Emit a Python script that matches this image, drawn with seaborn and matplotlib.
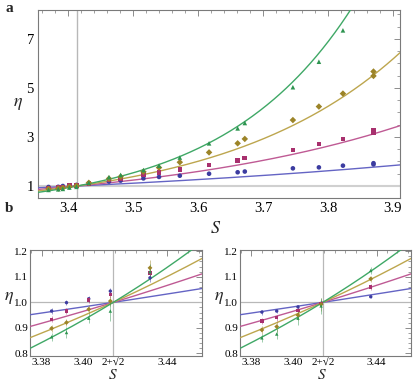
import numpy as np
import pandas as pd
import matplotlib
matplotlib.use("Agg")
import matplotlib.pyplot as plt
import seaborn as sns
from matplotlib.ticker import MultipleLocator, FixedLocator

sns.set_theme(style="white")
plt.rcParams['font.family'] = ['Liberation Serif', 'DejaVu Serif']
plt.rcParams['mathtext.fontset'] = 'stix'

# ---------------- data ----------------
S0 = 2 + np.sqrt(2)
series = ["blue", "magenta", "gold", "green"]
colors_line = ["#6464c4", "#bf5a94", "#bda64e", "#3fa866"]
colors_pt = ["#3c3ca0", "#a8306e", "#9c8428", "#2e9450"]
markers = ["o", "s", "D", "^"]
growth_rates = [1.25, 2.5, 3.75, 5.0]   # fitted exponents

# panel a: S values and eta values for each series
S_top = [3.370, 3.385, 3.392, 3.402, 3.413, 3.432, 3.463, 3.481, 3.516, 3.540,
         3.572, 3.617, 3.661, 3.672, 3.746, 3.786, 3.823, 3.870, 3.870]
eta_blue = [0.960, 0.966, 0.999, 1.014, 1.044, 1.09, 1.18, 1.22, 1.31, 1.37,
            1.42, 1.50, 1.56, 1.59, 1.72, 1.76, 1.83, 1.93, 1.88]
eta_magenta = [0.920, 0.934, 0.966, 1.009, 1.031, 1.11, 1.24, 1.30, 1.48, 1.56,
               1.68, 1.86, 2.05, 2.14, 2.47, 2.71, 2.91, 3.29, 3.19]
eta_gold = [0.880, 0.898, 0.921, 0.973, 1.005, 1.13, 1.30, 1.38, 1.58, 1.75,
            1.97, 2.37, 2.74, 2.92, 3.69, 4.24, 4.77, 5.67, 5.49]
eta_green = [0.840, 0.865, 0.882, 0.938, 0.966, 1.13, 1.36, 1.45, 1.65, 1.83,
             2.16, 2.74, 3.35, 3.57, 5.03, 6.07, 7.35, np.nan, np.nan]

# panel b (left)
S_bl = [3.3848, 3.3919, 3.4025, 3.4128, 3.4317]
bl_blue = [0.966, 0.999, 1.014, 1.044, 1.096]
bl_magenta = [0.934, 0.966, 1.009, 1.031, 1.115]
bl_gold = [0.898, 0.921, 0.973, 1.005, 1.135]
bl_green = [0.865, 0.882, 0.938, 0.966, 1.120]
bl_err_blue = [0.012, 0.010, 0.012, 0.012, 0.015]
bl_err_magenta = [0.012, 0.010, 0.012, 0.012, 0.020]
bl_err_gold = [0.015, 0.012, 0.015, 0.020, 0.030]
bl_err_green = [0.015, 0.020, 0.020, 0.040, 0.030]

# panel b (right)
S_br = [3.3850, 3.3921, 3.4023, 3.4134, 3.4372]
br_blue = [0.962, 0.966, 0.982, 0.996, 1.022]
br_magenta = [0.927, 0.940, 0.969, 0.995, 1.060]
br_gold = [0.892, 0.905, 0.950, 0.992, 1.092]
br_green = [0.861, 0.876, 0.938, 0.986, 1.125]
br_err_blue = [0.010, 0.008, 0.008, 0.008, 0.005]
br_err_magenta = [0.012, 0.012, 0.012, 0.015, 0.012]
br_err_gold = [0.015, 0.020, 0.020, 0.025, 0.012]
br_err_green = [0.015, 0.020, 0.025, 0.030, 0.015]

top_vals = [eta_blue, eta_magenta, eta_gold, eta_green]
bl_vals = [bl_blue, bl_magenta, bl_gold, bl_green]
bl_errs = [bl_err_blue, bl_err_magenta, bl_err_gold, bl_err_green]
br_vals = [br_blue, br_magenta, br_gold, br_green]
br_errs = [br_err_blue, br_err_magenta, br_err_gold, br_err_green]

# ---------------- figure ----------------
fig = plt.figure(figsize=(4.15, 3.84), dpi=100)
ax_a = fig.add_axes([38/415, 1-198/384, 362/415, 188/384])
ax_l = fig.add_axes([30/415, 1-356/384, 172/415, 106/384])
ax_r = fig.add_axes([240/415, 1-356/384, 171/415, 106/384])

frame_col = "#7a7a7a"
ref_col = "#b8b8b8"


def style_axes(ax, fs, pad=3):
    for sp in ax.spines.values():
        sp.set_color(frame_col)
        sp.set_linewidth(0.8)
    ax.tick_params(which="both", direction="in", top=True, right=True,
                   color=frame_col, labelsize=fs, pad=pad, labelcolor="black")
    ax.tick_params(which="major", length=4, width=0.6)
    ax.tick_params(which="minor", length=2, width=0.5)


def draw_curves(ax, xmin, xmax):
    grid = np.linspace(xmin, xmax, 300)
    rows = []
    for name, k in zip(series, growth_rates):
        for g in grid:
            rows.append((name, g, np.exp(k * (g - S0))))
    df = pd.DataFrame(rows, columns=["series", "S", "eta"])
    sns.lineplot(data=df, x="S", y="eta", hue="series", hue_order=series,
                 palette=colors_line, linewidth=1.0, legend=False, ax=ax,
                 zorder=3)


# ---- panel a ----
xa = (3.3538, 3.9108)
ax_a.axvline(S0, color=ref_col, lw=1.0, zorder=1)
ax_a.axhline(1.0, color="#d0d0d0", lw=1.5, zorder=1)
draw_curves(ax_a, xa[0], xa[1])
rows = []
for name, vals in zip(series, top_vals):
    for s, v in zip(S_top, vals):
        rows.append((name, s, v))
dft = pd.DataFrame(rows, columns=["series", "S", "eta"]).dropna()
sns.scatterplot(data=dft, x="S", y="eta", hue="series", style="series",
                hue_order=series, style_order=series, palette=colors_pt,
                markers=markers, s=11, linewidth=0, legend=False, ax=ax_a,
                zorder=4)
ax_a.set_xlim(*xa)
ax_a.set_ylim(0.51, 8.18)
ax_a.xaxis.set_major_locator(FixedLocator([3.4, 3.5, 3.6, 3.7, 3.8, 3.9]))
ax_a.xaxis.set_minor_locator(MultipleLocator(0.02))
ax_a.yaxis.set_major_locator(FixedLocator([1, 3, 5, 7]))
ax_a.yaxis.set_minor_locator(MultipleLocator(0.5))
ax_a.set_xticklabels(["3.4", "3.5", "3.6", "3.7", "3.8", "3.9"])
ax_a.set_yticklabels(["1", "3", "5", "7"])
style_axes(ax_a, 10.5)
ax_a.set_xlabel("$S$", fontsize=13, labelpad=0)
ax_a.set_ylabel("$\\eta$", fontsize=13, rotation=0, labelpad=10)
ax_a.yaxis.set_label_coords(-0.055, 0.46)
ax_a.xaxis.set_label_coords(0.49, -0.115)

# ---- panel b ----
xb = (3.3745, 3.4565)
for ax, svals, vals_list, errs_list in [(ax_l, S_bl, bl_vals, bl_errs),
                                        (ax_r, S_br, br_vals, br_errs)]:
    ax.axvline(S0, color=ref_col, lw=0.9, zorder=1)
    ax.axhline(1.0, color=ref_col, lw=0.9, zorder=1)
    draw_curves(ax, xb[0], xb[1])
    rows = []
    for name, vals, errs, c in zip(series, vals_list, errs_list, colors_pt):
        ax.errorbar(svals, vals, yerr=errs, fmt="none", ecolor=c, elinewidth=0.6,
                    alpha=0.55, capsize=0, zorder=4)
        for s, v in zip(svals, vals):
            rows.append((name, s, v))
    dfb = pd.DataFrame(rows, columns=["series", "S", "eta"])
    sns.scatterplot(data=dfb, x="S", y="eta", hue="series", style="series",
                    hue_order=series, style_order=series, palette=colors_pt,
                    markers=markers, s=6, linewidth=0, legend=False, ax=ax,
                    zorder=5)
    ax.set_xlim(*xb)
    ax.set_ylim(0.79, 1.205)
    ax.xaxis.set_major_locator(FixedLocator([3.38, 3.40, S0, 3.44]))
    ax.set_xticklabels(["3.38", "3.40", "2+\u221a2", "3.44"])
    ax.xaxis.set_minor_locator(MultipleLocator(0.005))
    ax.yaxis.set_major_locator(FixedLocator([0.8, 0.9, 1.0, 1.1, 1.2]))
    ax.set_yticklabels(["0.8", "0.9", "1.0", "1.1", "1.2"])
    ax.yaxis.set_minor_locator(MultipleLocator(0.02))
    style_axes(ax, 8.0, pad=1.5)
    ax.set_xlabel("$S$", fontsize=11, labelpad=0)
    ax.xaxis.label.set_verticalalignment("bottom")
    ax.xaxis.set_label_coords(0.48, -0.245)
    ax.set_ylabel("$\\eta$", fontsize=13, rotation=0, labelpad=4)
    ax.yaxis.set_label_coords(-0.125, 0.47)

fig.text(5/415, 1-9/384, "a", fontsize=11, fontweight="bold", va="center",
         family="Liberation Serif")
fig.text(5/415, 1-208/384, "b", fontsize=11, fontweight="bold", va="center",
         family="Liberation Serif")

fig.savefig("out.png", dpi=100)
